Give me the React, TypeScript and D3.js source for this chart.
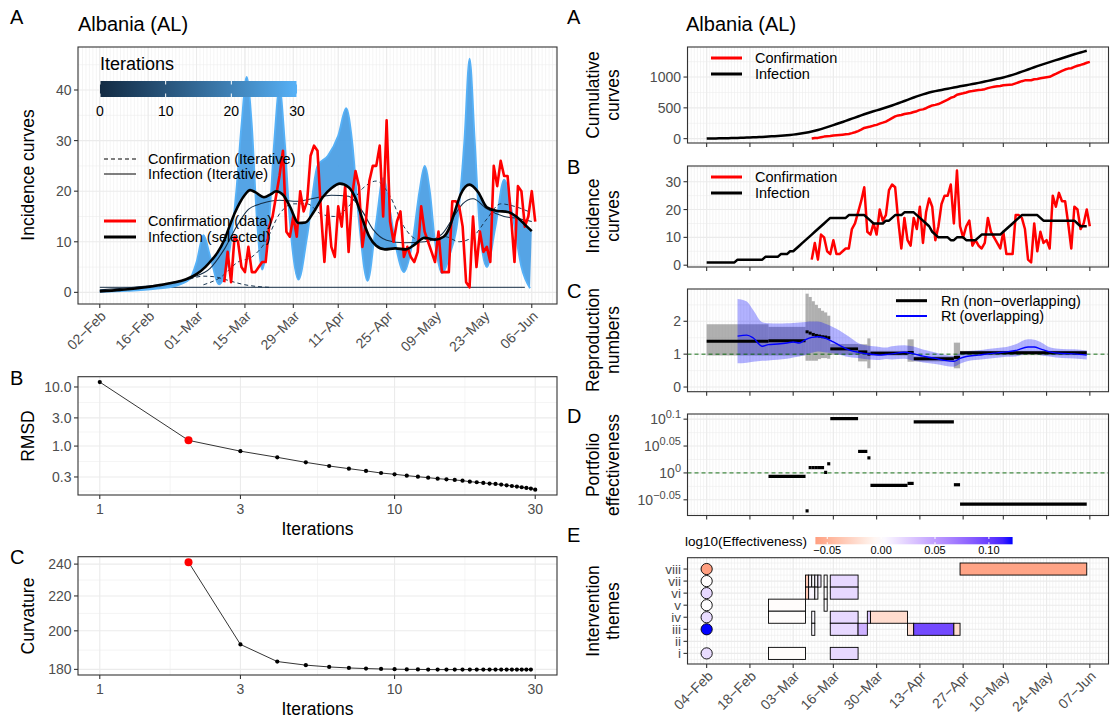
import React from "react";
import * as d3 from "d3";

const W = 1110;
const H = 718;
const FONT = "'Liberation Sans', Arial, Helvetica, sans-serif";
const GRID = "#EBEBEB";
const AXIS_TXT = "#4D4D4D";
const BORDER = "#333333";

const day = (s: string) => new Date(s + "T00:00:00Z");
const shift = (d: Date, n: number) => new Date(d.getTime() + n * 86400000);

// ---------------- data ----------------
const leftOrigin = day("2020-02-02"); // knot days on the left are counted from here
const rightOrigin = day("2020-02-04"); // segment days on the right are counted from here

const leftTickDates = ["2020-02-02", "2020-02-16", "2020-03-01", "2020-03-15", "2020-03-29", "2020-04-11", "2020-04-25", "2020-05-09", "2020-05-23", "2020-06-06"];
const leftTickLabels = ["02−Feb", "16−Feb", "01−Mar", "15−Mar", "29−Mar", "11−Apr", "25−Apr", "09−May", "23−May", "06−Jun"];
const rightTickDates = ["2020-02-04", "2020-02-18", "2020-03-03", "2020-03-16", "2020-03-30", "2020-04-13", "2020-04-27", "2020-05-10", "2020-05-24", "2020-06-07"];
const rightTickLabels = ["04−Feb", "18−Feb", "03−Mar", "16−Mar", "30−Mar", "13−Apr", "27−Apr", "10−May", "24−May", "07−Jun"];

// daily confirmed cases, 09-Mar .. 07-Jun
const confirmedStart = "2020-03-09";
const confirmed = [
  2, 8, 2, 11, 10, 5, 4, 9, 4, 4, 5, 6, 6, 13, 15, 19, 23, 28, 12, 11, 15, 11, 20,
  16, 18, 27, 29, 28, 16, 6, 17, 9, 7, 17, 13, 21, 8, 19, 24, 21, 9, 14, 22, 25, 25, 29, 15, 34, 14, 10, 14, 16, 7,
  9, 7, 6, 8, 17, 12, 10, 8, 6, 12, 4, 4, 4, 18, 18, 17, 13, 2, 1, 15, 5, 12, 8, 9, 6, 25, 21, 26, 23, 23, 15,
  6, 21, 20, 13, 15, 20, 14,
];

// daily inferred infections, 04-Feb .. 06-Jun
const infectionStart = "2020-02-04";
const infection = [
  1, 1, 1, 1, 1, 1, 1, 1, 1, 1, 2, 2, 2, 2, 2, 2, 2, 2, 2, 3, 3, 3, 3, 3, 4, 4, 4, 5, 5,
  6, 7, 8, 9, 10, 11, 12, 13, 14, 15, 16, 17, 17, 17, 17, 17, 17, 18, 18, 18, 18, 18, 18,
  17, 16, 15, 15, 15, 15, 16, 16, 17, 18, 18, 18, 19, 19, 19, 19, 18, 17, 16, 15, 14, 12, 11,
  10, 10, 10, 10, 9, 9, 10, 10, 10, 9, 9, 9, 9, 10, 11, 11, 11, 11, 11, 11, 11,
  12, 13, 14, 15, 16, 17, 18, 18, 18, 18, 18, 18, 17, 16, 16, 16, 16, 16, 16, 16, 16, 16, 16, 16, 15, 14, 14, 14,
];

// selected infection curve (iteration 2), knots: days after 02-Feb
const selDay = [0, 6, 12, 17, 21, 25, 28, 30.5, 32.5, 34, 36, 37.5, 39, 40.5, 42, 43.5, 45, 47.5, 49.5, 51, 53, 55, 57.5, 59.5, 62, 64.5, 67, 69.5, 72, 74, 76, 78, 80, 82.5, 85.5, 88.5, 91, 94, 97, 99.5, 101, 102.5, 104.5, 107, 109.5, 112, 115, 118, 120.5, 123, 125];
const selVal = [0.2, 0.5, 0.9, 1.4, 1.9, 2.6, 3.6, 5.0, 6.5, 7.8, 10.3, 13.0, 15.6, 17.7, 19.3, 20.2, 19.8, 18.8, 19.4, 20.0, 19.3, 17.0, 13.7, 13.8, 16.0, 18.8, 20.6, 21.5, 20.8, 18.6, 14.5, 11.0, 9.2, 8.5, 8.7, 8.5, 9.4, 10.8, 10.4, 11.0, 12.5, 15.5, 19.5, 21.3, 19.8, 16.8, 16.1, 15.9, 15.0, 13.4, 12.1];

// iteration 30 infection curve (outer envelope of the fan)
const it30Day = [0, 8, 16, 22, 26, 28, 30, 32, 34.5, 37, 39.5, 41, 42.5, 44, 45.5, 47, 49, 50.5, 52, 53.5, 55, 57.5, 60, 63, 66, 69, 71.3, 73, 75, 77.5, 80, 82, 84, 86, 88, 90.5, 92.5, 94, 95.5, 97, 99, 101.5, 103.5, 105.5, 107, 108.5, 110, 112, 114.5, 117, 119.5, 122, 124.5];
const it30Val = [0.1, 0.3, 0.7, 1.3, 2.6, 6, 11.3, 7, 1.6, 6, 20, 33, 42.6, 33, 14, 4.5, 14, 30, 40.5, 30, 14, 2.5, 11, 25, 27, 31, 36.4, 30, 14, 2.3, 14, 22.6, 16, 8, 4, 10, 20, 25, 20, 10, 3.8, 8, 14, 30, 46.2, 30, 12, 5, 13, 22.3, 15, 5, 0.8];

// iteration 1 infection curve
const it1Day = [0, 10, 20, 27, 32, 36, 40, 43, 47, 52, 57, 62, 67, 72, 76, 79, 83, 88, 94, 99, 102, 105, 108, 112, 117, 121, 125];
const it1Val = [0.5, 1.0, 1.8, 3.0, 4.8, 8.5, 13.5, 16.4, 17.6, 18.2, 18.0, 18.6, 19.2, 19.0, 16.0, 12.5, 10.3, 9.8, 10.0, 11.5, 14.5, 17.5, 18.5, 16.5, 15.0, 14.6, 14.0];

// iteration 0 (flat start)
const it0Day = [0, 123];
const it0Val = [1.0, 1.0];

// confirmation (iterative), dashed
const conf0Day = [26, 30, 33, 36, 39, 42, 45, 49];
const conf0Val = [2.6, 3.2, 3.1, 2.6, 2.0, 1.5, 1.2, 1.0];
const confDay = [30, 35, 40, 44, 48, 52, 56, 60, 64, 68, 72, 76, 80, 84, 88, 92, 96, 100, 104, 108, 112, 116, 120, 124];
const confVal = [1.5, 3.0, 6.0, 7.0, 10.0, 15.5, 17.5, 17.5, 15.5, 15.0, 17.0, 20.5, 22.0, 19.0, 13.0, 10.5, 10.5, 11.0, 10.0, 11.0, 14.5, 17.5, 17.0, 16.0];

// convergence diagnostics
const rmsdIter = d3.range(1, 31);
const rmsd = [12.1, 1.25, 0.82, 0.645, 0.53, 0.46, 0.415, 0.38, 0.35, 0.333, 0.316, 0.303, 0.292, 0.281, 0.274, 0.267, 0.26, 0.25, 0.244, 0.238, 0.232, 0.229, 0.223, 0.217, 0.211, 0.206, 0.201, 0.196, 0.191, 0.183];
const curvIter = d3.range(2, 30);
const curvature = [241.3, 192.7, 183.9, 182.1, 181.2, 180.7, 180.4, 180.2, 180.1, 180.0, 180.0, 179.9, 179.9, 179.9, 179.9, 179.9, 179.9, 179.9, 179.9, 179.9, 179.9, 179.9, 179.9, 179.9, 179.9, 179.9, 179.9, 179.9];
const selectedIter = 2;

// non-overlapping reproduction numbers (days after 04-Feb)
const rnStart = [0, 20, 32, 33, 34, 35, 36, 37, 38, 39, 40, 49, 52, 53, 65, 67, 80, 82];
const rnEnd = [20, 32, 33, 34, 35, 36, 37, 38, 39, 40, 49, 52, 53, 65, 67, 80, 82, 123];
const rnMean = [1.39, 1.41, 1.68, 1.64, 1.60, 1.57, 1.55, 1.53, 1.52, 1.50, 1.16, 1.07, 1.00, 1.03, 1.05, 0.86, 0.90, 1.04];
const rnLow = [0.96, 0.96, 0.80, 0.80, 0.80, 0.80, 0.85, 0.88, 0.88, 0.86, 0.98, 0.78, 0.57, 0.96, 0.77, 0.78, 0.57, 0.97];
const rnHigh = [1.91, 1.83, 2.84, 2.74, 2.61, 2.50, 2.40, 2.32, 2.27, 2.17, 1.31, 1.30, 1.48, 1.10, 1.45, 0.93, 1.35, 1.10];

// overlapping Rt (days after 04-Feb)
const rtDay = [10, 13, 15, 18, 20, 23, 26, 28, 30, 32, 34, 36, 38, 41, 43, 45, 47, 49, 51, 54, 56, 58, 60, 64, 67, 70, 74, 77, 80, 82, 84, 88, 91, 94, 97, 100, 104, 106, 108, 111, 115, 119, 123];
const rtMean = [1.55, 1.58, 1.50, 1.24, 1.29, 1.31, 1.34, 1.37, 1.34, 1.44, 1.51, 1.53, 1.50, 1.37, 1.27, 1.17, 1.10, 1.06, 1.02, 0.99, 0.97, 0.99, 1.01, 1.06, 1.01, 0.94, 0.87, 0.81, 0.78, 0.87, 0.93, 0.97, 1.01, 1.04, 1.07, 1.11, 1.22, 1.22, 1.16, 1.07, 1.02, 1.01, 0.97];
const rtLow = [0.72, 0.74, 0.77, 0.80, 0.81, 0.83, 0.86, 0.90, 0.93, 0.98, 1.04, 1.08, 1.06, 1.03, 0.98, 0.93, 0.90, 0.88, 0.85, 0.83, 0.82, 0.85, 0.84, 0.86, 0.80, 0.75, 0.70, 0.65, 0.62, 0.71, 0.78, 0.83, 0.86, 0.89, 0.92, 0.93, 1.02, 1.02, 0.97, 0.93, 0.88, 0.87, 0.84];
const rtHigh = [2.68, 2.60, 2.35, 1.97, 1.94, 1.93, 1.94, 1.95, 1.96, 1.98, 1.99, 1.99, 1.94, 1.82, 1.72, 1.60, 1.47, 1.34, 1.28, 1.24, 1.22, 1.20, 1.24, 1.27, 1.23, 1.14, 1.05, 0.98, 0.95, 1.03, 1.08, 1.12, 1.16, 1.19, 1.22, 1.30, 1.45, 1.44, 1.37, 1.21, 1.16, 1.15, 1.11];

// portfolio effectiveness, log10 (days after 04-Feb)
const effStart = [20, 32, 33, 34, 35, 36, 37, 38, 39, 40, 49, 52, 53, 65, 67, 80, 82];
const effEnd = [32, 33, 34, 35, 36, 37, 38, 39, 40, 49, 52, 53, 65, 67, 80, 82, 123];
const effVal = [-0.0064, -0.0706, 0.0099, 0.0099, 0.0099, 0.0099, 0.0099, 0.001, 0.017, 0.101, 0.040, 0.028, -0.023, -0.0195, 0.0948, -0.022, -0.058];

// intervention themes
const themeLabels = ["i", "ii", "iii", "iv", "v", "vi", "vii", "viii"];
const ivTheme = [8, 7, 6, 4, 3, 1, 5, 4, 1, 7, 6, 7, 7, 4, 3, 7, 6, 6, 7, 7, 6, 5, 3, 4, 4, 3, 3, 3];
const ivStart = [82, 40, 40, 40, 40, 40, 20, 20, 20, 32, 32, 33, 34, 34, 34, 35, 33, 35, 36, 38, 38, 38, 49, 52, 53, 65, 67, 80];
const ivEnd = [123, 49, 49, 49, 49, 49, 32, 32, 32, 33, 33, 34, 35, 35, 35, 36, 35, 36, 37, 39, 39, 39, 52, 53, 65, 67, 80, 82];
const ivValue = [-0.058, 0.02, 0.02, 0.02, 0.02, 0.02, -0.002, -0.002, -0.002, -0.035, -0.035, 0.005, 0.003, 0.003, 0.003, 0.005, 0.005, 0.005, 0.01, 0.0003, 0.0003, 0.0003, 0.04, 0.028, -0.023, -0.0195, 0.0948, -0.022];
const themeDot = [8, 7, 6, 5, 4, 3, 1];
const themeDotValue = [-0.061, -0.001, 0.02, 0.001, 0.018, 0.122, 0.018];
const effLimits = [-0.061, 0.122];
const effBreaks = [-0.05, 0, 0.05, 0.1];
const effBreakLabels = ["−0.05", "0.00", "0.05", "0.10"];

// ---------------- scales ----------------
const xL = d3.scaleUtc().domain([shift(leftOrigin, -6.3), shift(leftOrigin, 132.3)]).range([78, 557]);
const dL = (n: number) => xL(shift(leftOrigin, n));
const xR = d3.scaleUtc().domain([shift(rightOrigin, -6.2), shift(rightOrigin, 130.2)]).range([687.5, 1109]);
const dR = (n: number) => xR(shift(rightOrigin, n));

const yA = d3.scaleLinear().domain([-2.3, 48.5]).range([304, 47]);
const xIt = d3.scaleLog().domain([Math.pow(10, -0.0739), Math.pow(10, 1.551)]).range([78, 557]);
const yRmsd = d3.scaleLog().domain([Math.pow(10, -0.828), Math.pow(10, 1.174)]).range([495, 376.7]);
const yCurv = d3.scaleLog().domain([Math.pow(10, 2.2486), Math.pow(10, 2.389)]).range([675, 556.7]);

const cumConf = Array.from(d3.cumsum(confirmed));
const cumInf = Array.from(d3.cumsum(infection));
const confDates = d3.utcDay.range(day(confirmedStart), shift(day(confirmedStart), confirmed.length));
const infDates = d3.utcDay.range(day(infectionStart), shift(day(infectionStart), infection.length));

const yCum = d3.scaleLinear().domain([-70.9, 1487.9]).range([143, 47]);
const yInc = d3.scaleLinear().domain([-0.65, 35.65]).range([267, 166]);
const yC = d3.scaleLinear().domain([-0.142, 2.982]).range([391.7, 289]);
const yD = d3.scaleLinear().domain([-0.0792, 0.1096]).range([515.5, 414]);
const yE = d3.scaleLinear().domain([0.12, 8.94]).range([664, 557.7]);
const xCb = d3.scaleLinear().domain(effLimits).range([815.4, 1012.6]);

const effMax = Math.max(Math.abs(effLimits[0]), Math.abs(effLimits[1]));
const effColor = (v: number) =>
  v >= 0 ? d3.interpolateLab("#FFFFFF", "#0000FF")(Math.min(1, v / effMax)) : d3.interpolateLab("#FFFFFF", "#FF0000")(Math.min(1, -v / effMax));
const iterColor = d3.interpolateLab("#132B43", "#56B1F7");

const smooth = d3.line().curve(d3.curveMonotoneX);
const straight = d3.line();

const knotPts = (days: number[], vals: number[]) => days.map((d, i) => [dL(d), yA(vals[i])] as [number, number]);

// ---------------- helpers ----------------
type Box = { x0: number; x1: number; y0: number; y1: number };

function Grid({ b, vMinor, vMajor, hMinor, hMajor }: { b: Box; vMinor: number[]; vMajor: number[]; hMinor: number[]; hMajor: number[] }) {
  const inX = (x: number) => x > b.x0 && x < b.x1;
  const inY = (y: number) => y > b.y0 && y < b.y1;
  return (
    <g>
      <rect x={b.x0} y={b.y0} width={b.x1 - b.x0} height={b.y1 - b.y0} fill="#FFFFFF" />
      {vMinor.filter(inX).map((x, i) => <line key={"vn" + i} x1={x} x2={x} y1={b.y0} y2={b.y1} stroke={GRID} strokeWidth={0.55} />)}
      {hMinor.filter(inY).map((y, i) => <line key={"hn" + i} x1={b.x0} x2={b.x1} y1={y} y2={y} stroke={GRID} strokeWidth={0.55} />)}
      {vMajor.filter(inX).map((x, i) => <line key={"vj" + i} x1={x} x2={x} y1={b.y0} y2={b.y1} stroke={GRID} strokeWidth={1.1} />)}
      {hMajor.filter(inY).map((y, i) => <line key={"hj" + i} x1={b.x0} x2={b.x1} y1={y} y2={y} stroke={GRID} strokeWidth={1.1} />)}
    </g>
  );
}

function Frame({ b }: { b: Box }) {
  return <rect x={b.x0} y={b.y0} width={b.x1 - b.x0} height={b.y1 - b.y0} fill="none" stroke={BORDER} strokeWidth={1.1} />;
}

function YAxis({ b, ys, labels, size = 14 }: { b: Box; ys: number[]; labels: React.ReactNode[]; size?: number }) {
  return (
    <g>
      {ys.map((y, i) => (
        <g key={i}>
          <line x1={b.x0 - 4} x2={b.x0} y1={y} y2={y} stroke={BORDER} strokeWidth={1.1} />
          <text x={b.x0 - 6.5} y={y} dy="0.36em" textAnchor="end" fontSize={size} fill={AXIS_TXT}>
            {labels[i]}
          </text>
        </g>
      ))}
    </g>
  );
}

function XTicks({ b, xs }: { b: Box; xs: number[] }) {
  return (
    <g>
      {xs.map((x, i) => <line key={i} x1={x} x2={x} y1={b.y1} y2={b.y1 + 4} stroke={BORDER} strokeWidth={1.1} />)}
    </g>
  );
}

function RotLabels({ b, xs, labels }: { b: Box; xs: number[]; labels: string[] }) {
  return (
    <g>
      {xs.map((x, i) => (
        <text key={i} transform={`translate(${x + 7},${b.y1 + 13}) rotate(-45)`} textAnchor="end" fontSize={14} fill={AXIS_TXT}>
          {labels[i]}
        </text>
      ))}
    </g>
  );
}

function YTitle({ x, y, lines }: { x: number; y: number; lines: string[] }) {
  const gap = 19.5;
  return (
    <text transform={`translate(${x},${y}) rotate(-90)`} textAnchor="middle" fontSize={17.5} fill="#000">
      {lines.map((l, i) => (
        <tspan key={i} x={0} y={(i - (lines.length - 1) / 2) * gap + 6}>
          {l}
        </tspan>
      ))}
    </text>
  );
}

const Tag = ({ x, y, t }: { x: number; y: number; t: string }) => (
  <text x={x} y={y} fontSize={20} fill="#000">
    {t}
  </text>
);

// ---------------- panels ----------------
const bA: Box = { x0: 78, x1: 557, y0: 47, y1: 304 };
const bB: Box = { x0: 78, x1: 557, y0: 376.7, y1: 495 };
const bC: Box = { x0: 78, x1: 557, y0: 556.7, y1: 675 };
const rX0 = 687.5;
const rX1 = 1108.5;
const rA: Box = { x0: rX0, x1: rX1, y0: 47, y1: 143 };
const rB: Box = { x0: rX0, x1: rX1, y0: 166, y1: 267 };
const rC: Box = { x0: rX0, x1: rX1, y0: 289, y1: 391.7 };
const rD: Box = { x0: rX0, x1: rX1, y0: 414, y1: 515.5 };
const rE: Box = { x0: rX0, x1: rX1, y0: 557.7, y1: 664 };

const leftDaily = d3.range(-7, 134).map(dL);
const leftMajor = leftTickDates.map((s) => xL(day(s)));
const rightDaily = d3.range(-7, 132).map(dR);
const rightMajor = rightTickDates.map((s) => xR(day(s)));

function LeftIncidence() {
  const fanOuter = smooth(knotPts(it30Day, it30Val)) as string;
  const selBack = smooth(knotPts(selDay, selVal).slice().reverse()) as string;
  const fan = fanOuter + "L" + selBack.slice(1) + "Z";
  const redPts = confDates.map((d, i) => [xL(d), yA(confirmed[i])] as [number, number]);
  return (
    <g>
      <Grid b={bA} vMinor={leftDaily} vMajor={leftMajor} hMinor={[5, 15, 25, 35, 45].map(yA)} hMajor={[0, 10, 20, 30, 40].map(yA)} />
      <path d={smooth(knotPts(it0Day, it0Val)) as string} fill="none" stroke={iterColor(0)} strokeWidth={1} />
      <path d={fan} fill="#4C9FE4" fillOpacity={0.95} stroke="none" />
      <path d={fanOuter} fill="none" stroke={iterColor(1)} strokeWidth={1.8} />
      <path d={smooth(knotPts(conf0Day, conf0Val)) as string} fill="none" stroke={iterColor(0.05)} strokeWidth={1} strokeDasharray="4,3" />
      <path d={smooth(knotPts(confDay, confVal)) as string} fill="none" stroke={iterColor(0.1)} strokeWidth={1} strokeDasharray="4,3" />
      <path d={smooth(knotPts(it1Day, it1Val)) as string} fill="none" stroke={iterColor(1 / 30)} strokeWidth={1.1} />
      <path d={straight(redPts) as string} fill="none" stroke="#FF0000" strokeWidth={2.6} strokeLinejoin="round" />
      <path d={smooth(knotPts(selDay, selVal)) as string} fill="none" stroke="#000" strokeWidth={2.6} />
      <Frame b={bA} />
      <YAxis b={bA} ys={[0, 10, 20, 30, 40].map(yA)} labels={["0", "10", "20", "30", "40"]} />
      <XTicks b={bA} xs={leftMajor} />
      <RotLabels b={bA} xs={leftMajor} labels={leftTickLabels} />
      {/* legend */}
      <defs>
        <linearGradient id="iterGrad" x1="0" x2="1" y1="0" y2="0">
          {d3.range(0, 11).map((i) => (
            <stop key={i} offset={i / 10} stopColor={iterColor(i / 10)} />
          ))}
        </linearGradient>
      </defs>
      <text x={100} y={70} fontSize={18} fill="#000">Iterations</text>
      <rect x={100} y={81} width={197} height={16} fill="url(#iterGrad)" />
      {[0, 10, 20, 30].map((v, i) => {
        const x = 100 + (v / 30) * 197;
        return (
          <g key={i}>
            <line x1={x} x2={x} y1={81} y2={84.5} stroke="#fff" strokeWidth={1} />
            <line x1={x} x2={x} y1={93.5} y2={97} stroke="#fff" strokeWidth={1} />
            <text x={x} y={116} textAnchor="middle" fontSize={14} fill="#000">{v}</text>
          </g>
        );
      })}
      <line x1={104} x2={136} y1={159} y2={159} stroke="#000" strokeWidth={1} strokeDasharray="4,3" />
      <text x={148} y={164} fontSize={14.5}>Confirmation (Iterative)</text>
      <line x1={104} x2={136} y1={174} y2={174} stroke="#000" strokeWidth={1} />
      <text x={148} y={179} fontSize={14.5}>Infection (Iterative)</text>
      <line x1={104} x2={136} y1={221} y2={221} stroke="#FF0000" strokeWidth={3} />
      <text x={148} y={226} fontSize={14.5}>Confirmation (data)</text>
      <line x1={104} x2={136} y1={237} y2={237} stroke="#000" strokeWidth={3} />
      <text x={148} y={242} fontSize={14.5}>Infection (selected)</text>
    </g>
  );
}

function LeftDiag({ b, iters, vals, yS, ticks, labels }: { b: Box; iters: number[]; vals: number[]; yS: any; ticks: number[]; labels: string[] }) {
  const itTicks = [1, 3, 10, 30];
  const itMinor = [Math.sqrt(3), Math.sqrt(30), Math.sqrt(300)];
  const yMinor = ticks.slice(0, -1).map((t, i) => Math.sqrt(t * ticks[i + 1]));
  if (ticks[0] < 1) yMinor.push(Math.sqrt((ticks[0] * ticks[0]) / 3));
  const pts = iters.map((it, i) => [xIt(it), yS(vals[i])] as [number, number]);
  return (
    <g>
      <Grid b={b} vMinor={itMinor.map(xIt)} vMajor={itTicks.map(xIt)} hMinor={yMinor.map(yS)} hMajor={ticks.map(yS)} />
      <path d={straight(pts) as string} fill="none" stroke="#000" strokeWidth={0.8} />
      {pts.map((p, i) => (
        <circle key={i} cx={p[0]} cy={p[1]} r={iters[i] === selectedIter ? 4 : 2.1} fill={iters[i] === selectedIter ? "#FF0000" : "#000"} />
      ))}
      <Frame b={b} />
      <YAxis b={b} ys={ticks.map(yS)} labels={labels} />
      <XTicks b={b} xs={itTicks.map(xIt)} />
      {itTicks.map((t, i) => (
        <text key={i} x={xIt(t)} y={b.y1 + 19} textAnchor="middle" fontSize={14} fill={AXIS_TXT}>{t}</text>
      ))}
      <text x={(b.x0 + b.x1) / 2} y={b.y1 + 40} textAnchor="middle" fontSize={17.5}>Iterations</text>
    </g>
  );
}

function RightCurves({ b, yS, confVals, infVals, ticks }: { b: Box; yS: any; confVals: number[]; infVals: number[]; ticks: number[] }) {
  const step = ticks[1] - ticks[0];
  const minor = d3.range(ticks[0] - step / 2, ticks[ticks.length - 1] + step, step);
  const red = confDates.map((d, i) => [xR(d), yS(confVals[i])] as [number, number]);
  const blk = infDates.map((d, i) => [xR(d), yS(infVals[i])] as [number, number]);
  return (
    <g>
      <Grid b={b} vMinor={rightDaily} vMajor={rightMajor} hMinor={minor.map(yS)} hMajor={ticks.map(yS)} />
      <path d={straight(red) as string} fill="none" stroke="#FF0000" strokeWidth={2.5} strokeLinejoin="round" />
      <path d={straight(blk) as string} fill="none" stroke="#000" strokeWidth={2.5} strokeLinejoin="round" />
      <Frame b={b} />
      <YAxis b={b} ys={ticks.map(yS)} labels={ticks.map(String)} />
      <XTicks b={b} xs={rightMajor} />
      <line x1={711} x2={742} y1={b.y0 + 11} y2={b.y0 + 11} stroke="#FF0000" strokeWidth={3} />
      <text x={755} y={b.y0 + 16} fontSize={14.5}>Confirmation</text>
      <line x1={711} x2={742} y1={b.y0 + 27} y2={b.y0 + 27} stroke="#000" strokeWidth={3} />
      <text x={755} y={b.y0 + 32} fontSize={14.5}>Infection</text>
    </g>
  );
}

function RightRepro() {
  const b = rC;
  const ribbon = d3
    .area()
    .curve(d3.curveMonotoneX)
    .x((d: any) => d[0])
    .y0((d: any) => d[1])
    .y1((d: any) => d[2]);
  const rib = rtDay.map((d, i) => [dR(d), yC(rtLow[i]), yC(rtHigh[i])]);
  const rt = rtDay.map((d, i) => [dR(d), yC(rtMean[i])] as [number, number]);
  return (
    <g>
      <Grid b={b} vMinor={rightDaily} vMajor={rightMajor} hMinor={[0.5, 1.5, 2.5].map(yC)} hMajor={[0, 1, 2].map(yC)} />
      {rnStart.map((s, i) => (
        <rect key={"rb" + i} x={dR(s)} y={yC(rnHigh[i])} width={dR(rnEnd[i]) - dR(s)} height={yC(rnLow[i]) - yC(rnHigh[i])} fill="#7F7F7F" fillOpacity={0.62} />
      ))}
      <path d={ribbon(rib as any) as string} fill="#0000FF" fillOpacity={0.3} />
      <line x1={b.x0} x2={b.x1} y1={yC(1)} y2={yC(1)} stroke="#006400" strokeWidth={0.9} strokeDasharray="4,3" />
      {rnStart.map((s, i) => (
        <line key={"rl" + i} x1={dR(s)} x2={dR(rnEnd[i])} y1={yC(rnMean[i])} y2={yC(rnMean[i])} stroke="#000" strokeWidth={3} />
      ))}
      <path d={smooth(rt) as string} fill="none" stroke="#0000FF" strokeWidth={1.4} />
      <Frame b={b} />
      <YAxis b={b} ys={[0, 1, 2].map(yC)} labels={["0", "1", "2"]} />
      <XTicks b={b} xs={rightMajor} />
      <line x1={896} x2={927} y1={300.7} y2={300.7} stroke="#000" strokeWidth={3} />
      <text x={941} y={306} fontSize={14.5}>Rn (non−overlapping)</text>
      <line x1={896} x2={927} y1={316} y2={316} stroke="#0000FF" strokeWidth={2} />
      <text x={941} y={321} fontSize={14.5}>Rt (overlapping)</text>
    </g>
  );
}

function RightEff() {
  const b = rD;
  const ticks = [-0.05, 0, 0.05, 0.1];
  const sup = ["−0.05", "0", "0.05", "0.1"];
  return (
    <g>
      <Grid b={b} vMinor={rightDaily} vMajor={rightMajor} hMinor={[-0.075, -0.025, 0.025, 0.075].map(yD)} hMajor={ticks.map(yD)} />
      <line x1={b.x0} x2={b.x1} y1={yD(0)} y2={yD(0)} stroke="#006400" strokeWidth={0.9} strokeDasharray="4,3" />
      {effStart.map((s, i) => (
        <line key={i} x1={dR(s)} x2={dR(effEnd[i])} y1={yD(effVal[i])} y2={yD(effVal[i])} stroke="#000" strokeWidth={3.2} />
      ))}
      <Frame b={b} />
      <YAxis
        b={b}
        ys={ticks.map(yD)}
        labels={sup.map((s, i) => (
          <React.Fragment key={i}>
            <tspan>10</tspan>
            <tspan dy="-6" fontSize={11}>{s}</tspan>
          </React.Fragment>
        ))}
      />
      <XTicks b={b} xs={rightMajor} />
    </g>
  );
}

function RightThemes() {
  const b = rE;
  const rowH = yE(0) - yE(1);
  const stops = d3.range(0, 21).map((i) => effLimits[0] + ((effLimits[1] - effLimits[0]) * i) / 20);
  return (
    <g>
      <Grid b={b} vMinor={rightDaily} vMajor={rightMajor} hMinor={d3.range(0.5, 9, 1).map(yE)} hMajor={d3.range(1, 9).map(yE)} />
      {ivTheme.map((t, i) => (
        <rect key={i} x={dR(ivStart[i])} y={yE(t + 0.5)} width={dR(ivEnd[i]) - dR(ivStart[i])} height={rowH} fill={effColor(ivValue[i])} stroke="#000" strokeWidth={0.9} />
      ))}
      {themeDot.map((t, i) => (
        <circle key={i} cx={dR(0)} cy={yE(t)} r={5.6} fill={effColor(themeDotValue[i])} stroke="#000" strokeWidth={0.9} />
      ))}
      <Frame b={b} />
      <YAxis b={b} ys={d3.range(1, 9).map(yE)} labels={themeLabels} size={13.5} />
      <XTicks b={b} xs={rightMajor} />
      <RotLabels b={b} xs={rightMajor} labels={rightTickLabels} />
      {/* colour legend */}
      <defs>
        <linearGradient id="effGrad" x1="0" x2="1" y1="0" y2="0">
          {stops.map((v, i) => (
            <stop key={i} offset={i / 20} stopColor={effColor(v)} />
          ))}
        </linearGradient>
      </defs>
      <text x={807} y={545.5} textAnchor="end" fontSize={13.5}>log10(Effectiveness)</text>
      <rect x={xCb(effLimits[0])} y={537} width={xCb(effLimits[1]) - xCb(effLimits[0])} height={7.3} fill="url(#effGrad)" />
      {effBreaks.map((v, i) => (
        <g key={i}>
          <line x1={xCb(v)} x2={xCb(v)} y1={537} y2={539} stroke="#fff" />
          <line x1={xCb(v)} x2={xCb(v)} y1={542.3} y2={544.3} stroke="#fff" />
          <text x={xCb(v)} y={554} textAnchor="middle" fontSize={11}>{effBreakLabels[i]}</text>
        </g>
      ))}
    </g>
  );
}

export default function App() {
  return (
    <div style={{ position: "absolute", left: 0, top: 0, width: W, height: H, background: "#fff" }}>
      <svg width={W} height={H} fontFamily={FONT} style={{ display: "block" }}>
        <rect width={W} height={H} fill="#fff" />
        {/* left column */}
        <Tag x={10} y={24} t="A" />
        <text x={78} y={31} fontSize={20}>Albania (AL)</text>
        <YTitle x={28} y={175} lines={["Incidence curves"]} />
        <LeftIncidence />
        <Tag x={10} y={385} t="B" />
        <YTitle x={28} y={436} lines={["RMSD"]} />
        <LeftDiag b={bB} iters={rmsdIter} vals={rmsd} yS={yRmsd} ticks={[0.3, 1, 3, 10]} labels={["0.3", "1.0", "3.0", "10.0"]} />
        <Tag x={10} y={564} t="C" />
        <YTitle x={28} y={616} lines={["Curvature"]} />
        <LeftDiag b={bC} iters={curvIter} vals={curvature} yS={yCurv} ticks={[180, 200, 220, 240]} labels={["180", "200", "220", "240"]} />

        {/* right column */}
        <Tag x={567} y={24} t="A" />
        <text x={686} y={31} fontSize={20}>Albania (AL)</text>
        <YTitle x={603} y={95} lines={["Cumulative", "curves"]} />
        <RightCurves b={rA} yS={yCum} confVals={cumConf} infVals={cumInf} ticks={[0, 500, 1000]} />
        <Tag x={567} y={174} t="B" />
        <YTitle x={603} y={216} lines={["Incidence", "curves"]} />
        <RightCurves b={rB} yS={yInc} confVals={confirmed} infVals={infection} ticks={[0, 10, 20, 30]} />
        <Tag x={567} y={298} t="C" />
        <YTitle x={603} y={340} lines={["Reproduction", "numbers"]} />
        <RightRepro />
        <Tag x={567} y={423} t="D" />
        <YTitle x={603} y={465} lines={["Portfolio", "effectiveness"]} />
        <RightEff />
        <Tag x={567} y={542} t="E" />
        <YTitle x={603} y={611} lines={["Intervention", "themes"]} />
        <RightThemes />
      </svg>
    </div>
  );
}
